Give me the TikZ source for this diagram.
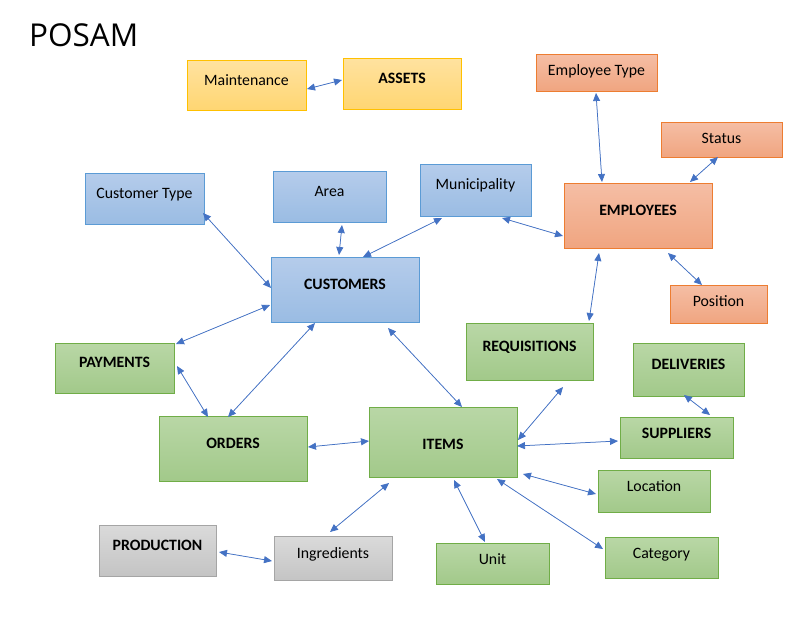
\documentclass[tikz,border=0pt]{standalone}
\usepackage{fontspec}
\setmainfont{Carlito}
\newfontfamily\titlefont{Open Sans}
\usetikzlibrary{arrows.meta}
\definecolor{bluebd}{HTML}{5B9BD5}
\definecolor{bluetop}{HTML}{B5CCEB}
\definecolor{bluebot}{HTML}{9ABCE3}
\definecolor{orbd}{HTML}{ED7D31}
\definecolor{ortop}{HTML}{F5BEA5}
\definecolor{orbot}{HTML}{F0A580}
\definecolor{yebd}{HTML}{FFC000}
\definecolor{yetop}{HTML}{FFE2A0}
\definecolor{yebot}{HTML}{FFD672}
\definecolor{grbd}{HTML}{70AD47}
\definecolor{grtop}{HTML}{B9D7A6}
\definecolor{grbot}{HTML}{A2C98A}
\definecolor{gybd}{HTML}{A5A5A5}
\definecolor{gytop}{HTML}{DADADA}
\definecolor{gybot}{HTML}{C4C4C4}
\definecolor{conncol}{HTML}{4472C4}
\tikzset{
  boxbase/.style={rectangle, inner sep=0pt, outer sep=0pt, line width=0.9pt},
  bluebox/.style={boxbase, draw=bluebd, top color=bluetop, bottom color=bluebot},
  orbox/.style={boxbase, draw=orbd, top color=ortop, bottom color=orbot},
  yebox/.style={boxbase, draw=yebd, top color=yetop, bottom color=yebot},
  grbox/.style={boxbase, draw=grbd, top color=grtop, bottom color=grbot},
  gybox/.style={boxbase, draw=gybd, top color=gytop, bottom color=gybot},
  txt/.style={inner sep=0pt, anchor=base, font=\fontsize{15.8}{18}\selectfont, text=black},
  conn/.style={draw=conncol, line width=0.75pt, {Triangle[length=8pt,width=7pt]}-{Triangle[length=8pt,width=7pt]}, fill=conncol},
}
% name, style, x1, y1, x2, y2, text-center-y, text
\newcommand\bx[8]{%
  \expandafter\gdef\csname bxX#1\endcsname{#3}%
  \expandafter\gdef\csname bxY#1\endcsname{#4}%
  \node[#2, minimum width={(#5-#3)*1pt}, minimum height={(#6-#4)*1pt}, anchor=north west] (#1) at (#3,#4) {};
  \node[txt] (#1-t) at ({(#3+#5)/2},{#7+5.3}) {#8};
}
% node a, px, py, node b, px, py
\newcommand\cn[6]{%
  \draw[conn] ([shift={({#2-\csname bxX#1\endcsname},{#3-\csname bxY#1\endcsname})}]#1.north west)
    -- ([shift={({#5-\csname bxX#4\endcsname},{#6-\csname bxY#4\endcsname})}]#4.north west);%
}
\begin{document}
\begin{tikzpicture}[x=1pt,y=-1pt]
\useasboundingbox[fill=white] (0,0) rectangle (802,622);
\node[inner sep=0pt, anchor=base west, font=\titlefont\fontsize{31.5}{36}\selectfont] (title) at (29,46) {POSAM};

\bx{mnt}{yebox}{187}{60}{306}{110}{80}{Maintenance}
\bx{ast}{yebox}{343}{58}{461}{109}{78}{\bfseries ASSETS}
\bx{ety}{orbox}{536}{54}{657}{91}{70}{Employee Type}
\bx{sts}{orbox}{661}{122}{782}{157}{138}{Status}
\bx{emp}{orbox}{564}{183}{712}{248}{210}{\bfseries EMPLOYEES}
\bx{cty}{bluebox}{85}{173}{204}{224}{193}{Customer Type}
\bx{are}{bluebox}{273}{171}{386}{222}{191}{Area}
\bx{mun}{bluebox}{420}{164}{531}{216}{184}{Municipality}
\bx{cus}{bluebox}{271}{257}{419}{322}{284}{\bfseries CUSTOMERS}
\bx{pos}{orbox}{670}{285}{767}{323}{301}{Position}
\bx{pay}{grbox}{55}{343}{174}{393}{362}{\bfseries PAYMENTS}
\bx{req}{grbox}{466}{323}{593}{380}{346}{\bfseries REQUISITIONS}
\bx{del}{grbox}{633}{343}{744}{396}{364}{\bfseries DELIVERIES}
\bx{ord}{grbox}{159}{416}{307}{481}{443}{\bfseries ORDERS}
\bx{itm}{grbox}{369}{407}{517}{477}{444}{\bfseries ITEMS}
\bx{sup}{grbox}{620}{417}{733}{458}{433}{\bfseries SUPPLIERS}
\bx{loc}{grbox}{598}{470}{710}{512}{486}{Location}
\bx{pro}{gybox}{99}{525}{216}{576}{545}{\bfseries PRODUCTION}
\bx{ing}{gybox}{274}{536}{392}{580}{553}{Ingredients}
\bx{uni}{grbox}{436}{543}{549}{584}{559}{Unit}
\bx{cat}{grbox}{605}{537}{718}{578}{553}{Category}

\cn{mnt}{307}{89}{ast}{342}{80}
\cn{ety}{596}{93}{emp}{602}{182}
\cn{sts}{718}{157}{emp}{690}{182}
\cn{mun}{442}{218}{cus}{363}{257}
\cn{mun}{502}{218}{emp}{563}{236}
\cn{cty}{203}{213}{cus}{271}{288}
\cn{are}{342}{225}{cus}{339}{255}
\cn{cus}{270}{305}{pay}{176}{344}
\cn{pay}{177}{366}{ord}{208}{417}
\cn{cus}{315}{323}{ord}{228}{417}
\cn{cus}{388}{328}{itm}{462}{407}
\cn{emp}{599}{253}{req}{589}{321}
\cn{emp}{668}{253}{pos}{702}{285}
\cn{req}{563}{387}{itm}{518}{440}
\cn{itm}{517}{446}{sup}{618}{441}
\cn{del}{684}{395}{sup}{710}{415}
\cn{ord}{308}{447}{itm}{369}{441}
\cn{itm}{523}{474}{loc}{596}{494}
\cn{itm}{454}{480}{uni}{485}{542}
\cn{itm}{497}{479}{cat}{603}{549}
\cn{itm}{389}{483}{ing}{330}{532}
\cn{pro}{219}{552}{ing}{272}{561}
\end{tikzpicture}
\end{document}
